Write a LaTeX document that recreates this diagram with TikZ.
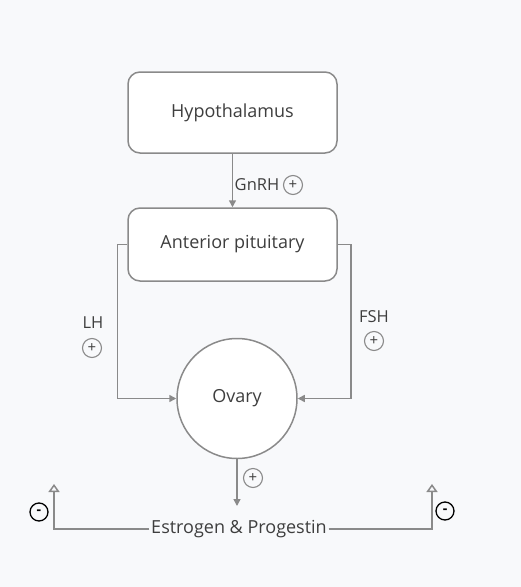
\documentclass[tikz,border=0pt]{standalone}
\usepackage{fontspec}
\setmainfont{Open Sans}
\usetikzlibrary{arrows.meta}
\usetikzlibrary{positioning}
\definecolor{linegray}{HTML}{8A8A8A}
\definecolor{textgray}{HTML}{3E3E3E}
\definecolor{bggray}{HTML}{F8F9FB}

\begin{document}
\begin{tikzpicture}[x=1pt, y=-1pt, line width=1.5pt,
    >={Triangle[length=7pt, width=7pt]},
    box/.style={draw=linegray, fill=white, rounded corners=12pt, minimum width=209pt, text=textgray, font=\fontsize{18}{21}\selectfont},
    organ/.style={draw=linegray, fill=white, circle, minimum size=120pt, text=textgray, font=\fontsize{18}{21}\selectfont},
    hormone/.style={text=textgray, font=\fontsize{16.5}{19}\selectfont, inner sep=1pt},
    plus/.style={draw=linegray, circle, line width=1.1pt, inner sep=0pt, minimum size=19pt, text=textgray, font=\fontsize{15}{15}\selectfont},
    minus/.style={draw=black, circle, line width=1.3pt, inner sep=0pt, minimum size=18pt, font=\bfseries\fontsize{14}{14}\selectfont},
    link/.style={draw=linegray, ->}]
    \fill[bggray] (0,0) rectangle (521,587);

    \node[box, minimum height=81pt] (hypo) at (232.5,112.5) {Hypothalamus};
    \node[box, minimum height=73pt] (pit) at (232.5,244.5) {Anterior pituitary};
    \node[organ] (ovary) at (237,398.5) {Ovary};
    \node[hormone, font=\fontsize{18}{21}\selectfont] (est) at (239,529) {Estrogen \& Progestin};
    \coordinate (estin) at (237,506);
    \coordinate (lup) at (54,484);
    \coordinate (rup) at (432,484);

    \draw[link] (hypo) -- (pit);
    \node[hormone] (gnrh) at (257,185) {GnRH};
    \node[plus] (gnrhplus) at (293,185) {+};

    \draw[link] (pit.west) -- ++(-10,0) |- (ovary.west);
    \node[hormone] (lh) at (93,323) {LH};
    \node[plus] (lhplus) at (92,348) {+};

    \draw[link] (pit.east) -- ++(13,0) |- (ovary.east);
    \node[hormone] (fsh) at (374,317) {FSH};
    \node[plus] (fshplus) at (374,341) {+};

    \draw[link] (ovary) -- (estin);
    \node[plus] (estplus) at (253,478) {+};

    \draw[draw=linegray, -{Triangle[open, length=8pt, width=11pt]}] (est.west) -| (lup);
    \draw[draw=linegray, -{Triangle[open, length=8pt, width=11pt]}] (est.east) -| (rup);
    \node[minus] (lminus) at (39,512) {-};
    \node[minus] (rminus) at (445,511) {-};
\end{tikzpicture}
\end{document}
